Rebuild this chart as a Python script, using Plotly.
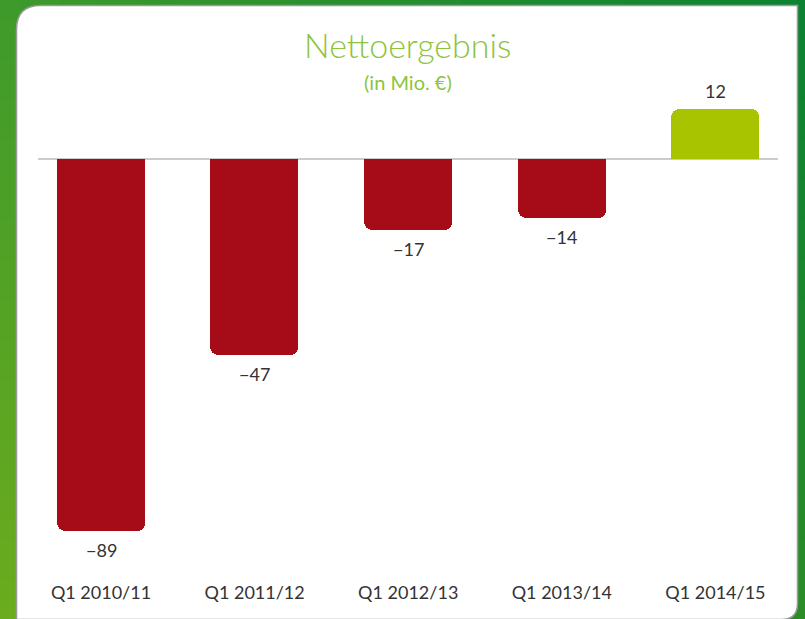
import plotly.graph_objects as go

# ---- data ----
categories = ["Q1 2010/11", "Q1 2011/12", "Q1 2012/13", "Q1 2013/14", "Q1 2014/15"]
values = [-89, -47, -17, -14, 12]
value_labels = ["\u221289", "\u221247", "\u221217", "\u221214", "12"]
title_text = "Nettoergebnis"
subtitle_text = "(in Mio. \u20ac)"

# ---- styling / layout constants (pixels) ----
W, H = 805, 619
RED, LIME = "#a60c18", "#a8c400"
TITLE_GREEN = "#8cc43c"
TEXT = "#333333"
FONT = "Lato"

first_center, pitch = 101.0, 153.6
zero_px, px_per_unit = 159.0, 4.18
plot_top, plot_bot = 60.0, 560.0

def fx(x):
    return x / W

def fy(y):
    return 1 - y / H

x_left = first_center - pitch / 2
x_right = x_left + pitch * len(categories)
y_max = (zero_px - plot_top) / px_per_unit
y_min = -(plot_bot - zero_px) / px_per_unit

colors = [LIME if v > 0 else RED for v in values]

fig = go.Figure()
fig.add_trace(go.Bar(
    x=categories, y=values,
    marker=dict(color=colors, line=dict(width=0), cornerradius=8),
    width=88 / pitch,
    hoverinfo="skip",
))

# value labels
for c, v, t in zip(categories, values, value_labels):
    fig.add_annotation(
        x=c, y=v, xref="x", yref="y", text=t, showarrow=False,
        yanchor="top" if v < 0 else "bottom",
        yshift=-6 if v < 0 else 5,
        font=dict(family=FONT, size=18, color=TEXT),
    )

# titles
fig.add_annotation(x=fx(408), y=fy(44), xref="paper", yref="paper", text=title_text,
                   showarrow=False, yanchor="middle",
                   font=dict(family=FONT, size=34, color=TITLE_GREEN, weight=300))
fig.add_annotation(x=fx(408), y=fy(82), xref="paper", yref="paper", text=subtitle_text,
                   showarrow=False, yanchor="middle",
                   font=dict(family=FONT, size=20, color=TITLE_GREEN))

# ---- background: green gradient edges + white rounded panel ----
def hex2rgb(h):
    h = h.lstrip("#")
    return [int(h[i:i + 2], 16) for i in (0, 2, 4)]

TL, TR, BL, BR = map(hex2rgb, ["#3e9a2b", "#0c8232", "#6cac1e", "#2c8c28"])

def grad(x, y):
    u, v = x / W, y / H
    c = [(1 - u) * (1 - v) * a + u * (1 - v) * b + (1 - u) * v * cc + u * v * d
         for a, b, cc, d in zip(TL, TR, BL, BR)]
    return "rgb(%d,%d,%d)" % tuple(int(round(k)) for k in c)

shapes = []
step = 20
nx, ny = W // step + 1, H // step + 1
for i in range(nx):
    for j in range(ny):
        x0, y0 = i * step, j * step
        shapes.append(dict(type="rect", xref="paper", yref="paper",
                           x0=fx(x0), x1=fx(x0 + step), y0=fy(y0 + step), y1=fy(y0),
                           fillcolor=grad(x0 + step / 2, y0 + step / 2),
                           line=dict(width=0), layer="below"))

# panel path (pixel coords -> paper)
L, T, R, B = 16.5, 5.5, 797.5, 619.5
rtl, rbr = 24, 16
def P(x, y):
    return "%.5f,%.5f" % (fx(x), fy(y))
path = ("M " + P(L, T + rtl) + " Q " + P(L, T) + " " + P(L + rtl, T) +
        " L " + P(R, T) + " L " + P(R, B - rbr) + " Q " + P(R, B) + " " + P(R - rbr, B) +
        " L " + P(L, B) + " Z")
shapes.append(dict(type="path", xref="paper", yref="paper", path=path,
                   fillcolor="white", line=dict(color="#9a9a9a", width=1.5), layer="below"))

# zero line
shapes.append(dict(type="line", xref="paper", yref="y", x0=fx(38), x1=fx(778), y0=0, y1=0,
                   line=dict(color="#cccccc", width=2), layer="below"))

fig.update_layout(
    width=W, height=H,
    margin=dict(l=0, r=0, t=0, b=0),
    paper_bgcolor="#4a9e28", plot_bgcolor="rgba(0,0,0,0)",
    showlegend=False, bargap=0,
    shapes=shapes,
    font=dict(family=FONT, color=TEXT),
    xaxis=dict(domain=[fx(x_left), fx(x_right)], range=[-0.5, len(categories) - 0.5],
               showgrid=False, zeroline=False, showline=False, ticks="",
               tickfont=dict(family=FONT, size=18, color=TEXT),
               ticklabelstandoff=20, automargin=False, fixedrange=True),
    yaxis=dict(domain=[fy(plot_bot), fy(plot_top)], range=[y_min, y_max],
               showgrid=False, zeroline=False, showline=False, showticklabels=False,
               automargin=False, fixedrange=True),
)

fig.write_html("out.html", config={"displayModeBar": False},
               post_script="document.body.style.margin='0px';document.body.style.overflow='hidden';")
